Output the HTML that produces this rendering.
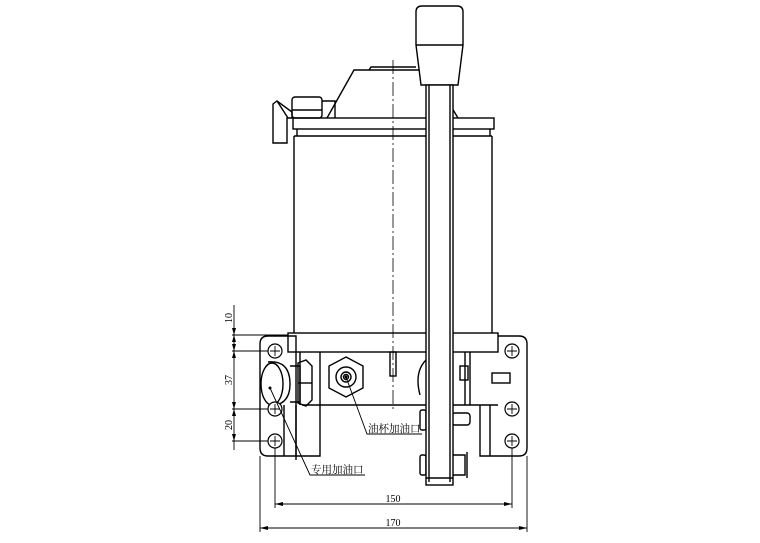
<!DOCTYPE html>
<html><head><meta charset="utf-8"><style>
html,body{margin:0;padding:0;background:#fff;}
svg{display:block}
text{font-family:"Liberation Serif","Noto Serif CJK SC",serif;fill:#000}
</style></head><body>
<svg width="760" height="543" viewBox="0 0 760 543" xmlns="http://www.w3.org/2000/svg">
<g fill="none" stroke="#000" stroke-width="1.4">
<line x1="393" y1="60" x2="393" y2="412" stroke-dasharray="14,3,2,3" stroke-width="0.8"/>
<path d="M327 118 L354 70 L419 70"/>
<path d="M369 70 L371 67 L416 67"/>
<rect x="292" y="97" width="30" height="21" rx="3"/>
<line x1="292" y1="110" x2="322" y2="110"/>
<path d="M322 101 L335 101 L335 118"/>
<path d="M273 104 L277 101 L292 112 L292 118 L287 118 L287 143 L273 143 Z"/>
<line x1="277" y1="101" x2="288" y2="118"/>
<rect x="293" y="118" width="201" height="11"/>
<line x1="297" y1="129" x2="297" y2="136"/><line x1="490" y1="129" x2="490" y2="136"/>
<line x1="294" y1="136" x2="492" y2="136"/>
<path d="M452 108 L458 118"/>
<line x1="294" y1="136" x2="294" y2="333"/>
<line x1="492" y1="136" x2="492" y2="333"/>
<rect x="288" y="333" width="210" height="19"/>
<path d="M268 336 L296 336 L296 456 L268 456 Q260 456 260 448 L260 344 Q260 336 268 336 Z"/>
<line x1="296" y1="405" x2="296" y2="460"/>
<line x1="284" y1="405" x2="284" y2="456"/>
<path d="M302 405 L320 405 L320 456 L296 456"/>
<line x1="320" y1="352" x2="320" y2="405"/>
<line x1="300" y1="352" x2="300" y2="405"/>
<line x1="320" y1="405" x2="498" y2="405"/>
<rect x="390" y="352" width="6" height="24"/>
<polygon points="346,357 363,366 363,388 346,397 329,388 329,366"/>
<circle cx="346" cy="377" r="10"/>
<circle cx="346" cy="377" r="5"/>
<circle cx="346" cy="377" r="2.5"/>
<ellipse cx="272" cy="384" rx="11" ry="21"/>
<path d="M268 362 Q290 360 290 384 Q290 406 268 406"/>
<path d="M290 366 L300 366 L300 402 L290 402"/>
<polygon points="298,363 306,360 312,366 312,400 306,406 298,403"/>
<line x1="298" y1="383" x2="312" y2="383"/>
<path d="M498 336 L519 336 Q527 336 527 344 L527 448 Q527 456 519 456 L480 456 L480 405"/>
<line x1="490" y1="405" x2="490" y2="456"/>
<rect x="492" y="373" width="18" height="10"/>
<line x1="465" y1="352" x2="465" y2="405"/>
<line x1="470" y1="352" x2="470" y2="405"/>
<path d="M426 360 Q414 372 420 395"/>
<rect x="460" y="366" width="8" height="14"/>
<rect x="452" y="413" width="18" height="12" rx="3"/>
<path d="M452 455 L465 455 L465 475 L452 475"/>
<line x1="467" y1="452" x2="467" y2="478"/>
<rect x="420" y="410" width="6" height="20" rx="2"/>
<rect x="420" y="455" width="6" height="20" rx="2"/>
<path d="M416 12 Q416 6 422 6 L457 6 Q463 6 463 12 L463 45 L458 85 L421 85 L416 45 Z" fill="#fff"/>
<line x1="416" y1="45" x2="463" y2="45"/>
<rect x="426" y="85" width="27" height="400" fill="#fff"/>
<line x1="429" y1="85" x2="429" y2="482"/>
<line x1="450" y1="85" x2="450" y2="482"/>
<line x1="426" y1="478" x2="453" y2="478"/>
</g>
<g fill="#fff" stroke="#000" stroke-width="1.2">
<circle cx="275" cy="351" r="7"/><circle cx="275" cy="409" r="7"/><circle cx="275" cy="441" r="7"/>
<circle cx="512" cy="351" r="7"/><circle cx="512" cy="409" r="7"/><circle cx="512" cy="441" r="7"/>
</g>
<g stroke="#000" stroke-width="0.9">
<path d="M270 351h10M275 346v10M270 409h10M275 404v10M270 441h10M275 436v10M507 351h10M512 346v10M507 409h10M512 404v10M507 441h10M512 436v10"/>
<line x1="234" y1="305" x2="234" y2="450"/>
<line x1="232" y1="335" x2="288" y2="335"/>
<line x1="232" y1="351" x2="268" y2="351"/>
<line x1="232" y1="409" x2="268" y2="409"/>
<line x1="232" y1="441" x2="268" y2="441"/>
<line x1="260" y1="456" x2="260" y2="532"/>
<line x1="527" y1="456" x2="527" y2="532"/>
<line x1="275" y1="448" x2="275" y2="508"/>
<line x1="512" y1="448" x2="512" y2="508"/>
<line x1="275" y1="504" x2="512" y2="504"/>
<line x1="260" y1="528" x2="527" y2="528"/>
<polyline points="346,377 367,434 422,434" fill="none"/>
<polyline points="270,388 310,475 365,475" fill="none"/>
</g>
<g fill="#000">
<path d="M234 335l-2 -7h4zM234 335l-2 7h4zM234 351l-2 -7h4zM234 351l-2 7h4zM234 409l-2 -7h4zM234 409l-2 7h4zM234 441l-2 -7h4z"/>
<path d="M275 504l8 -2v4zM512 504l-8 -2v4zM260 528l8 -2v4zM527 528l-8 -2v4z"/>
<circle cx="346" cy="377" r="1.5"/><circle cx="270" cy="388" r="1.5"/>
</g>
<g font-size="10">
<text transform="translate(232,318) rotate(-90)" text-anchor="middle">10</text>
<text transform="translate(232,380) rotate(-90)" text-anchor="middle">37</text>
<text transform="translate(232,425) rotate(-90)" text-anchor="middle">20</text>
<text x="393" y="502" text-anchor="middle">150</text>
<text x="393" y="526" text-anchor="middle">170</text>
<text x="368" y="432" font-size="10.5">油杯加油口</text>
<text x="311" y="473" font-size="10.5">专用加油口</text>
</g>
</svg>
</body></html>
